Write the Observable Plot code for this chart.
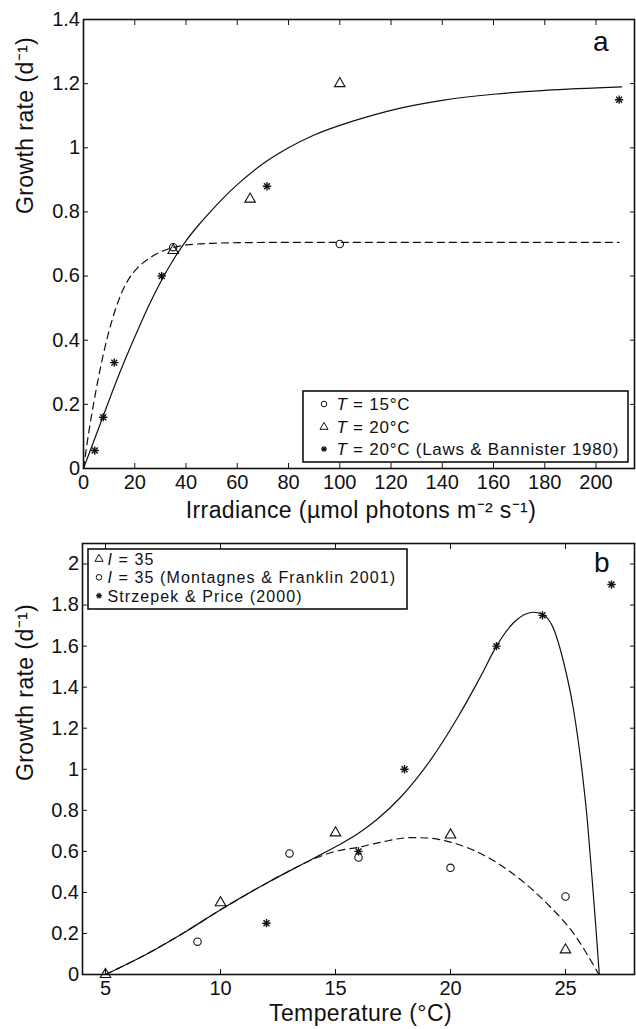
<!DOCTYPE html>
<html><head><meta charset="utf-8">
<script src="https://cdn.jsdelivr.net/npm/d3@7"></script>
<script src="https://cdn.jsdelivr.net/npm/@observablehq/plot@0.6"></script>
<style>
html,body{margin:0;padding:0;background:#fff;}
#chart{width:636px;height:1029px;position:relative;overflow:hidden;background:#fff;}
#chart svg{display:block;}
</style></head><body><div id="chart"></div>
<script>
// ---------- shared text ----------
const yLabel = "Growth rate (d⁻¹)";

// ---------- panel a : growth vs irradiance ----------
const aXTicks = [0, 20, 40, 60, 80, 100, 120, 140, 160, 180, 200];
const aYTicks = [0, 0.2, 0.4, 0.6, 0.8, 1, 1.2, 1.4];
const aXLabel = "Irradiance (µmol photons m⁻² s⁻¹)";
const aTag = "a";
const aCircleI = [35, 100];
const aCircleMu = [0.69, 0.70];
const aTriI = [35, 65, 100];
const aTriMu = [0.68, 0.84, 1.20];
const aStarI = [4.4, 7.7, 12, 30.5, 71.6, 209];
const aStarMu = [0.056, 0.16, 0.33, 0.60, 0.88, 1.15];
const aSolidI = [0, 4, 8, 12, 16, 20, 25, 30, 35, 40, 45, 50, 60, 70, 80, 90, 100, 110, 125, 140, 160, 180, 210];
const aSolidMu = [0, 0.085, 0.17, 0.255, 0.335, 0.41, 0.50, 0.58, 0.65, 0.71, 0.76, 0.805, 0.885, 0.95, 1.0, 1.04, 1.07, 1.095, 1.126, 1.148, 1.167, 1.179, 1.19];
const aDashI = [0, 2, 4, 6, 8, 10, 12, 15, 18, 21, 25, 30, 35, 40, 50, 60, 80, 120, 209];
const aDashMu = [0, 0.11, 0.205, 0.29, 0.365, 0.43, 0.485, 0.55, 0.595, 0.625, 0.652, 0.675, 0.689, 0.697, 0.702, 0.704, 0.705, 0.705, 0.705];
const aLegendVar = ["T", "T", "T"];
const aLegendText = [" = 15°C", " = 20°C", " = 20°C (Laws & Bannister 1980)"];
const aLegendSym = ["circle", "triangle", "star"];

// ---------- panel b : growth vs temperature ----------
const bXTicks = [5, 10, 15, 20, 25];
const bYTicks = [0, 0.2, 0.4, 0.6, 0.8, 1, 1.2, 1.4, 1.6, 1.8, 2];
const bXLabel = "Temperature (°C)";
const bTag = "b";
const bTriT = [5, 10, 15, 20, 25];
const bTriMu = [0, 0.35, 0.69, 0.68, 0.12];
const bCircleT = [9, 13, 16, 20, 25];
const bCircleMu = [0.16, 0.59, 0.57, 0.52, 0.38];
const bStarT = [12, 16, 18, 22, 24, 27];
const bStarMu = [0.25, 0.60, 1.00, 1.60, 1.75, 1.90];
const bSolidT = [5, 6.8, 8.5, 10, 12, 13, 14, 15, 16, 16.8, 17.8, 19.1, 20.3, 21.3, 22, 22.75, 23.6, 24, 24.5, 24.9, 25.35, 25.7, 25.95, 26.15, 26.3, 26.47];
const bSolidMu = [0, 0.10, 0.21, 0.315, 0.445, 0.505, 0.563, 0.622, 0.688, 0.755, 0.86, 1.04, 1.25, 1.45, 1.60, 1.715, 1.765, 1.755, 1.68, 1.53, 1.29, 1.01, 0.75, 0.475, 0.26, 0];
const bDashT = [5, 6.8, 8.5, 10, 12, 13, 14.2, 15, 16, 17, 18.26, 19, 20, 21.6, 22.9, 24.2, 25.36, 26.45];
const bDashMu = [0, 0.10, 0.21, 0.315, 0.445, 0.505, 0.57, 0.60, 0.62, 0.645, 0.667, 0.665, 0.645, 0.572, 0.475, 0.345, 0.199, 0];
const bLegendVar = ["I", "I", ""];
const bLegendText = [" = 35", " = 35 (Montagnes & Franklin 2001)", "Strzepek & Price (2000)"];
const bLegendSym = ["triangle", "circle", "star"];

// ---------- helpers ----------
const INK = "#111";
const FONT = "'Liberation Sans', Arial, Helvetica, sans-serif";
const pts = (xs, ys) => xs.map((x, i) => ({x, y: ys[i]}));

function axes(xt, yt) {
  return [
    Plot.axisX({ticks: xt, anchor: "bottom", tickSize: -5, tickPadding: 11, tickFormat: d => String(d), label: null, fontSize: 20, stroke: INK, fill: INK}),
    Plot.axisX({ticks: xt, anchor: "top", tickSize: -5, tickFormat: () => "", label: null, stroke: INK}),
    Plot.axisY({ticks: yt, anchor: "left", tickSize: -5, tickPadding: 8.5, tickFormat: d => String(d), label: null, fontSize: 20, stroke: INK, fill: INK}),
    Plot.axisY({ticks: yt, anchor: "right", tickSize: -5, tickFormat: () => "", label: null, stroke: INK}),
    Plot.frame({stroke: INK, strokeWidth: 1.6})
  ];
}
function markers(tri, circ, star) {
  return [
    Plot.dot(circ, {x: "x", y: "y", symbol: "circle", r: 3.7, stroke: INK, fill: "none", strokeWidth: 1.1}),
    Plot.dot(tri, {x: "x", y: "y", symbol: "triangle", r: 3.9, stroke: INK, fill: "none", strokeWidth: 1.1}),
    Plot.dot(star, {x: "x", y: "y", symbol: "plus", r: 2.8, stroke: INK, strokeWidth: 1.4}),
    Plot.dot(star, {x: "x", y: "y", symbol: "times", r: 2.8, stroke: INK, strokeWidth: 1.4})
  ];
}
function legend(svg, box, vars, texts, syms, rowY, symX, textX, fs, ls) {
  const g = d3.select(svg).append("g").attr("font-family", FONT).attr("fill", INK).attr("text-anchor", "start");
  g.append("rect").attr("x", box[0]).attr("y", box[1]).attr("width", box[2]).attr("height", box[3])
    .attr("fill", "white").attr("stroke", INK).attr("stroke-width", 1.6);
  texts.forEach((t, i) => {
    const cy = rowY[i] - 6;
    const s = syms[i];
    const tr = `translate(${symX},${cy})`;
    if (s === "star") {
      g.append("path").attr("d", d3.symbol(d3.symbolPlus, Math.PI * 4)()).attr("transform", tr).attr("stroke", INK).attr("stroke-width", 1.3).attr("fill", "none");
      g.append("path").attr("d", d3.symbol(d3.symbolTimes, Math.PI * 4)()).attr("transform", tr).attr("stroke", INK).attr("stroke-width", 1.3).attr("fill", "none");
    } else {
      const type = s === "circle" ? d3.symbolCircle : d3.symbolTriangle;
      const r = s === "circle" ? 2.8 : 3.0;
      g.append("path").attr("d", d3.symbol(type, Math.PI * r * r)()).attr("transform", tr).attr("stroke", INK).attr("fill", "none").attr("stroke-width", 1);
    }
    const txt = g.append("text").attr("x", textX).attr("y", rowY[i]).attr("font-size", fs)
      .attr("letter-spacing", ls).attr("text-anchor", "start");
    if (vars[i]) txt.append("tspan").attr("font-style", "italic").text(vars[i]);
    txt.append("tspan").text(texts[i]);
  });
}
function spaceText(svg, str, ls) {
  d3.select(svg).selectAll("text").filter(function () { return this.textContent === str; }).attr("letter-spacing", ls);
}

const root = document.getElementById("chart");

// ---------- panel a ----------
const plotA = Plot.plot({
  width: 636, height: 528,
  marginLeft: 83, marginRight: 2, marginTop: 19, marginBottom: 60,
  x: {domain: [0, 215]},
  y: {domain: [0, 1.4]},
  style: {fontFamily: FONT, fontSize: "20px", color: INK, background: "white", overflow: "visible"},
  marks: [
    ...axes(aXTicks, aYTicks),
    Plot.line(pts(aDashI, aDashMu), {x: "x", y: "y", curve: "monotone-x", stroke: INK, strokeWidth: 1.2, strokeDasharray: "7,5"}),
    Plot.line(pts(aSolidI, aSolidMu), {x: "x", y: "y", curve: "monotone-x", stroke: INK, strokeWidth: 1.2}),
    ...markers(pts(aTriI, aTriMu), pts(aCircleI, aCircleMu), pts(aStarI, aStarMu)),
    Plot.text([aXLabel], {frameAnchor: "bottom", text: d => d, dx: 2, dy: 49, lineAnchor: "bottom", fontSize: 23, fill: INK}),
    Plot.text([yLabel], {frameAnchor: "left", text: d => d, rotate: -90, dx: -58, dy: -30, fontSize: 23, fill: INK}),
    Plot.text([aTag], {frameAnchor: "top-right", text: d => d, dx: -26, dy: 31, lineAnchor: "bottom", fontSize: 28, fill: INK})
  ]
});
root.appendChild(plotA);
legend(plotA, [303, 391, 325, 71], aLegendVar, aLegendText, aLegendSym, [410, 433, 455], 324, 336.5, 17, 0.75);
spaceText(plotA, aXLabel, 0.4);
spaceText(plotA, yLabel, 0.4);

// ---------- panel b ----------
const plotB = Plot.plot({
  width: 636, height: 501,
  marginLeft: 82, marginRight: 2, marginTop: 15, marginBottom: 55,
  x: {domain: [4, 28]},
  y: {domain: [0, 2.1]},
  style: {fontFamily: FONT, fontSize: "20px", color: INK, background: "white", overflow: "visible"},
  marks: [
    ...axes(bXTicks, bYTicks),
    Plot.line(pts(bDashT, bDashMu), {x: "x", y: "y", curve: "monotone-x", stroke: INK, strokeWidth: 1.2, strokeDasharray: "7,5"}),
    Plot.line(pts(bSolidT, bSolidMu), {x: "x", y: "y", curve: "monotone-x", stroke: INK, strokeWidth: 1.2}),
    ...markers(pts(bTriT, bTriMu), pts(bCircleT, bCircleMu), pts(bStarT, bStarMu)),
    Plot.text([bXLabel], {frameAnchor: "bottom", text: d => d, dx: 2, dy: 46, lineAnchor: "bottom", fontSize: 23, fill: INK}),
    Plot.text([yLabel], {frameAnchor: "left", text: d => d, rotate: -90, dx: -57, dy: 22, fontSize: 23, fill: INK}),
    Plot.text([bTag], {frameAnchor: "top-right", text: d => d, dx: -25, dy: 28, lineAnchor: "bottom", fontSize: 28, fill: INK})
  ]
});
root.appendChild(plotB);
legend(plotB, [88, 21, 319, 60], bLegendVar, bLegendText, bLegendSym, [37, 55.3, 73.7], 99, 107.5, 16, 1.1);
spaceText(plotB, bXLabel, 0.4);
spaceText(plotB, yLabel, 0.4);
</script>
</body></html>
